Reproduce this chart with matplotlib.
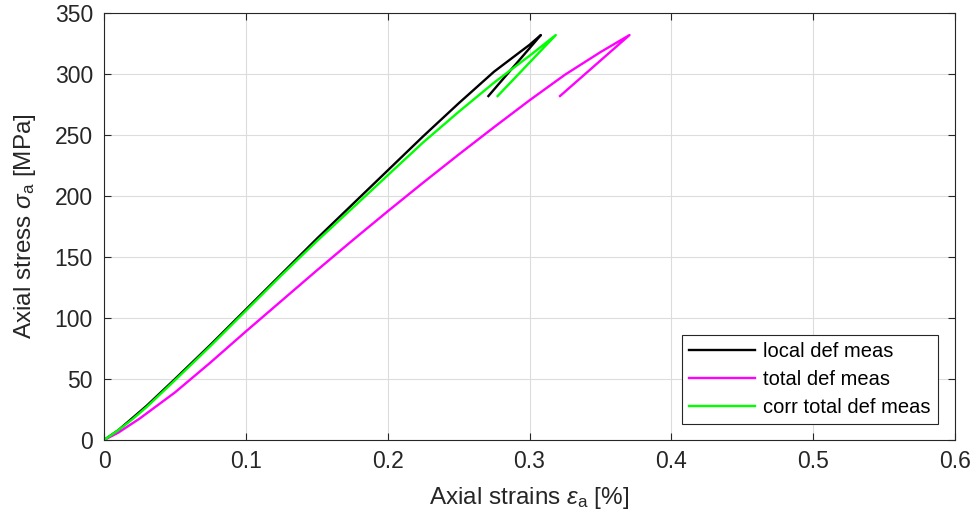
import matplotlib
matplotlib.use("Agg")
import matplotlib.pyplot as plt

plt.rcParams['font.family'] = ['Liberation Sans', 'DejaVu Sans']
plt.rcParams['mathtext.fontset'] = 'custom'
plt.rcParams['mathtext.rm'] = 'Liberation Sans'
plt.rcParams['mathtext.it'] = 'Liberation Sans:italic'

# local def meas (loading up to peak, then unloading)
local_x = [0, 0.01, 0.02, 0.03, 0.05, 0.075, 0.1, 0.125, 0.15, 0.175, 0.2,
           0.225, 0.25, 0.275, 0.3, 0.308, 0.271]
local_y = [0, 8, 18, 28, 50, 78, 107, 136, 165, 193, 221,
           249, 276, 302, 324, 332, 282]

# total def meas
total_x = [0, 0.01, 0.025, 0.05, 0.075, 0.1, 0.125, 0.15, 0.175, 0.2,
           0.225, 0.25, 0.275, 0.3, 0.325, 0.35, 0.3705, 0.3215]
total_y = [0, 6, 17.5, 39, 63.5, 89, 114, 139, 163.5, 187.5,
           211, 234, 256.5, 278.5, 299.5, 318, 332, 282]

# corr total def meas
corr_x = [0, 0.01, 0.02, 0.03, 0.05, 0.075, 0.1, 0.125, 0.15, 0.175, 0.2,
          0.225, 0.25, 0.275, 0.3, 0.3185, 0.2775]
corr_y = [0, 8, 17, 27, 49, 77, 106, 135, 163, 190, 217,
          244, 269, 293, 315, 332, 282]

fig = plt.figure(figsize=(9.76, 5.24), dpi=100)
ax = fig.add_axes([0.1066, 0.1603, 0.8719, 0.8147])

ax.plot(local_x, local_y, color='black', lw=1.7, label='local def meas')
ax.plot(total_x, total_y, color='#ff00ff', lw=1.7, label='total def meas')
ax.plot(corr_x, corr_y, color='#00ff00', lw=1.7, label='corr total def meas')

ax.set_xlim(0, 0.6)
ax.set_ylim(0, 350)
ax.set_xticks([0, 0.1, 0.2, 0.3, 0.4, 0.5, 0.6])
ax.set_xticklabels(['0', '0.1', '0.2', '0.3', '0.4', '0.5', '0.6'])
ax.set_yticks(range(0, 351, 50))
ax.grid(True, color='#dcdcdc', lw=0.8)
ax.set_axisbelow(True)
ax.tick_params(direction='in', top=True, right=True, labelsize=16.5,
               colors='#262626', length=5)
ax.tick_params(axis='x', pad=7)
ax.tick_params(axis='y', pad=8)
for s in ax.spines.values():
    s.set_color('#262626')
    s.set_linewidth(0.8)

ax.set_xlabel(r'Axial strains $\epsilon_{\rm a}$ [%]', fontsize=17.5,
              color='#262626', labelpad=9)
ax.set_ylabel(r'Axial stress $\sigma_{\rm a}$ [MPa]', fontsize=17.5,
              color='#262626', labelpad=12)

leg = ax.legend(loc='lower right', bbox_to_anchor=(0.98, 0.037), borderaxespad=0,
                fontsize=14.5, fancybox=False, edgecolor='#262626',
                framealpha=1, handlelength=3.3, labelspacing=0.45,
                borderpad=0.35, handletextpad=0.4)
leg.get_frame().set_linewidth(0.8)

fig.savefig('out.png', dpi=100)
